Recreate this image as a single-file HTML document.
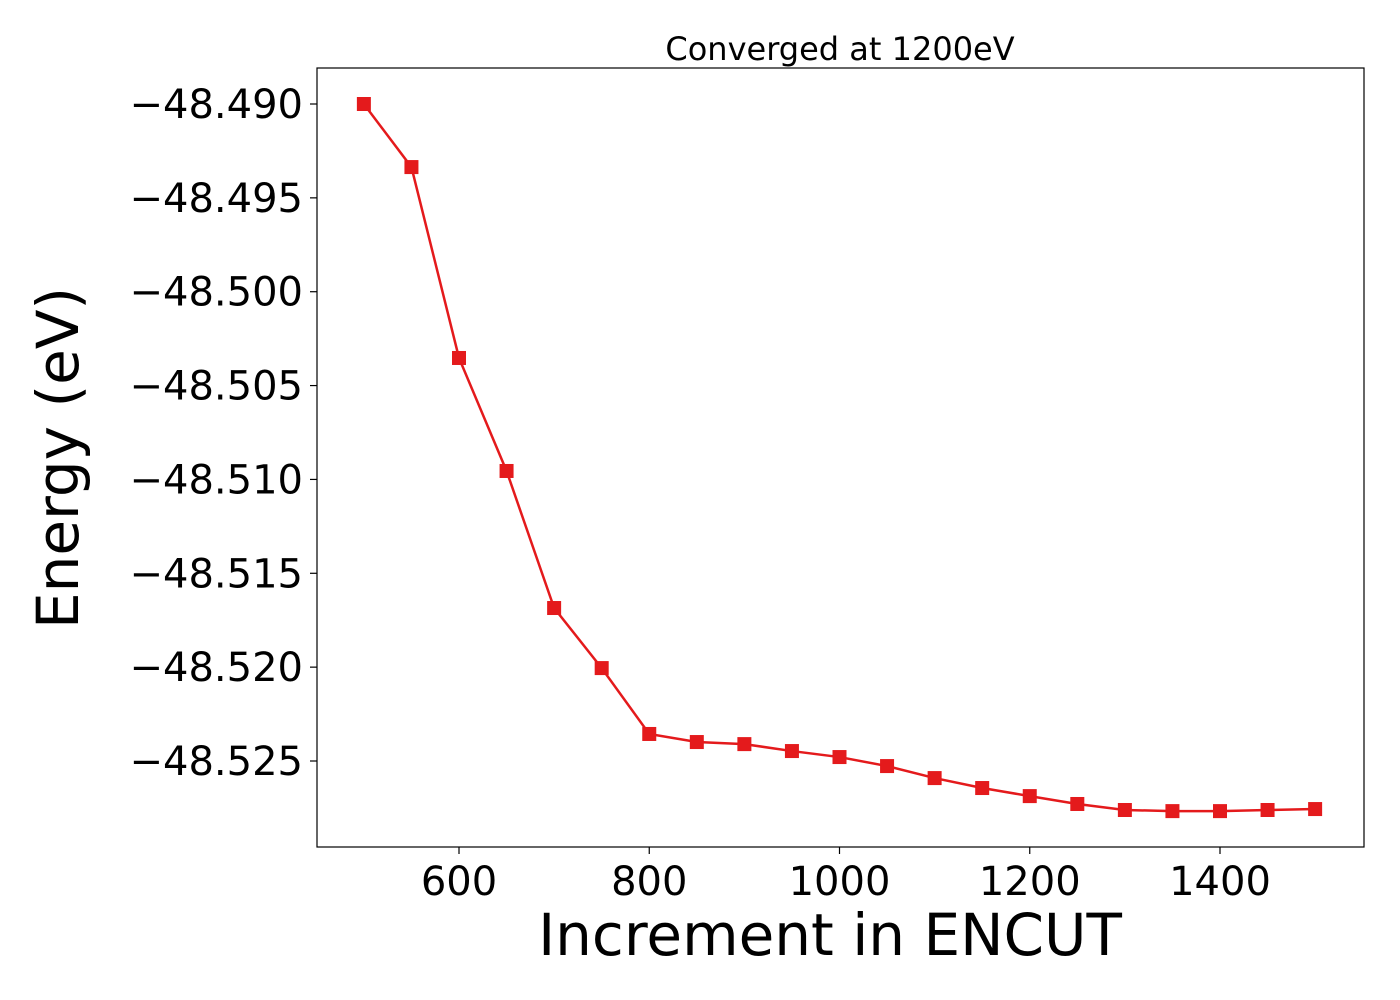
<!DOCTYPE html>
<html><head><meta charset="utf-8"><style>
html,body{margin:0;padding:0;background:#fff;}
svg{display:block;font-family:"DejaVu Sans","Liberation Sans",sans-serif;}
</style></head><body>
<svg id="chart" width="1400" height="1000" viewBox="0 0 1400 1000" xmlns="http://www.w3.org/2000/svg">
<rect width="1400" height="1000" fill="#fff"/>
<text x="840" y="60" font-size="32" text-anchor="middle">Converged at 1200eV</text>
<text x="830" y="955" font-size="58" text-anchor="middle">Increment in ENCUT</text>
<text transform="translate(78,458) rotate(-90)" font-size="58" text-anchor="middle">Energy (eV)</text>
<g id="plot"></g>
<rect x="317" y="68" width="1047" height="779" fill="none" stroke="#000" stroke-width="1.2"/>
</svg>
<script>
const encut = [500,550,600,650,700,750,800,850,900,950,1000,1050,1100,1150,1200,1250,1300,1350,1400,1450,1500];
const energy = [-48.49,-48.49336,-48.50353,-48.50955,-48.51685,-48.52005,-48.52356,-48.52399,-48.5241,-48.52447,-48.52479,-48.52527,-48.52591,-48.52644,-48.52687,-48.52729,-48.52761,-48.52767,-48.52767,-48.52761,-48.52756];
const xTicks = [600,800,1000,1200,1400];
const yTicks = [-48.49,-48.495,-48.5,-48.505,-48.51,-48.515,-48.52,-48.525];

const NS = "http://www.w3.org/2000/svg";
const g = document.getElementById('plot');
function xs(v){ return 459 + (v-600)*(190.25/200); }
function ys(v){ return 104 + (-48.49 - v)*(657/0.035); }
function mk(tag, attrs){ const e=document.createElementNS(NS,tag); for(const k in attrs) e.setAttribute(k,attrs[k]); g.appendChild(e); return e; }

xTicks.forEach(t=>{
  const l = mk('line',{x1:xs(t),x2:xs(t),y1:847,y2:854,stroke:'#000','stroke-width':1.2});
  
  
  const tx = mk('text',{x:xs(t),y:895,'font-size':40,'text-anchor':'middle'});
  tx.textContent = String(t);
  
  
});
yTicks.forEach(t=>{
  const l = mk('line',{x1:310,x2:317,y1:ys(t),y2:ys(t),stroke:'#000','stroke-width':1.2});
  
  
  const tx = mk('text',{x:303,y:ys(t)+14,'font-size':40,'text-anchor':'end'});
  tx.textContent = '\u2212' + Math.abs(t).toFixed(3);
  
  
});
const pts = encut.map((x,i)=>xs(x)+','+ys(energy[i])).join(' ');
const line = mk('polyline',{points:pts,fill:'none',stroke:'#e41a1c','stroke-width':2.5});


encut.forEach((x,i)=>{
  const r = mk('rect',{x:xs(x)-7,y:ys(energy[i])-7,width:14,height:14,fill:'#e41a1c'});
  
  
});
</script>
</body></html>
